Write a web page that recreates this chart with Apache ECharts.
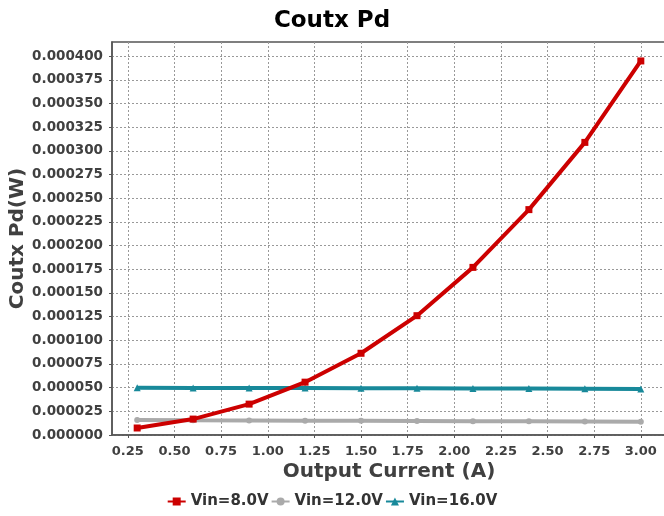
<!DOCTYPE html>
<html>
<head>
<meta charset="utf-8">
<script src="https://cdn.jsdelivr.net/npm/echarts@6/dist/echarts.min.js"></script>
<style>
  html, body { margin: 0; padding: 0; background: #fff; }
  #main { width: 664px; height: 516px; }
</style>
</head>
<body>
<div id="main"></div>
<script>
// output current (A)
var current = [0.3, 0.6, 0.9, 1.2, 1.5, 1.8, 2.1, 2.4, 2.7, 3.0]
// Coutx Pd (W)
var pd8 = [0.0000074, 0.0000168, 0.0000326, 0.0000558, 0.0000863, 0.000126, 0.000177, 0.000238, 0.000309, 0.000395]
var pd12 = [0.0000158, 0.0000155, 0.0000153, 0.0000151, 0.0000150, 0.0000148, 0.0000146, 0.0000144, 0.0000142, 0.0000140]
var pd16 = [0.0000498, 0.0000497, 0.0000496, 0.0000495, 0.0000494, 0.0000493, 0.0000492, 0.0000490, 0.0000488, 0.0000486]
var xTicks = [0.25, 0.5, 0.75, 1.0, 1.25, 1.5, 1.75, 2.0, 2.25, 2.5, 2.75, 3.0]
var yTicks = [0, 0.000025, 0.00005, 0.000075, 0.0001, 0.000125, 0.00015, 0.000175, 0.0002,
  0.000225, 0.00025, 0.000275, 0.0003, 0.000325, 0.00035, 0.000375, 0.0004]

function pairs(ys) {
  var out = []
  for (var i = 0; i < current.length; i++) out.push([current[i], ys[i]])
  return out
}

var font = 'DejaVu Sans'
var myChart = echarts.init(document.getElementById('main'))
var option = {
  animation: false,
  title: {
    text: 'Coutx Pd',
    left: 'center',
    top: 5,
    textStyle: { fontFamily: font, fontSize: 23, fontWeight: 'bold', color: '#000' }
  },
  grid: {
    left: 112,
    right: -2,
    top: 42,
    bottom: 81,
    outerBoundsMode: 'none',
    containLabel: false,
    show: true,
    borderColor: '#555',
    borderWidth: 1.5
  },
  legend: {
    bottom: 2,
    left: 'center',
    itemWidth: 18,
    itemHeight: 10,
    itemGap: 2,
    textStyle: { fontFamily: font, fontSize: 15, fontWeight: 'bold', color: '#333' },
    data: ['Vin=8.0V', 'Vin=12.0V', 'Vin=16.0V']
  },
  xAxis: {
    type: 'value',
    min: 0.165,
    max: 3.135,
    name: 'Output Current (A)',
    nameLocation: 'middle',
    nameGap: 27,
    nameMoveOverlap: false,
    nameTextStyle: { fontFamily: font, fontSize: 20, fontWeight: 'bold', color: '#404040' },
    axisLine: { show: true, lineStyle: { color: '#555', width: 1.5 } },
    axisTick: { show: true, length: 3, customValues: xTicks, lineStyle: { color: '#555' } },
    axisLabel: {
      customValues: xTicks,
      fontFamily: font, fontSize: 13, fontWeight: 'bold', color: '#404040', margin: 10,
      formatter: function (v) { return v.toFixed(2) }
    },
    splitLine: { show: true, lineStyle: { color: '#999', type: [2, 2], width: 1 } }
  },
  yAxis: {
    type: 'value',
    min: 0,
    max: 0.000415,
    name: 'Coutx Pd(W)',
    nameLocation: 'middle',
    nameGap: 84,
    nameMoveOverlap: false,
    nameTextStyle: { fontFamily: font, fontSize: 20, fontWeight: 'bold', color: '#404040' },
    axisLine: { show: true, lineStyle: { color: '#555', width: 1.5 } },
    axisTick: { show: true, length: 3, customValues: yTicks, lineStyle: { color: '#555' } },
    axisLabel: {
      customValues: yTicks,
      fontFamily: font, fontSize: 13.5, fontWeight: 'bold', color: '#404040', margin: 9,
      formatter: function (v) { return v.toFixed(6) }
    },
    splitLine: { show: true, lineStyle: { color: '#999', type: [2, 2], width: 1 } }
  },
  series: [
    {
      name: 'Vin=8.0V',
      type: 'line',
      data: pairs(pd8),
      color: '#cc0000',
      symbol: 'rect',
      symbolSize: 7,
      lineStyle: { width: 4 },
      z: 4
    },
    {
      name: 'Vin=12.0V',
      type: 'line',
      data: pairs(pd12),
      color: '#aaaaaa',
      symbol: 'circle',
      symbolSize: 6,
      lineStyle: { width: 4 },
      z: 2
    },
    {
      name: 'Vin=16.0V',
      type: 'line',
      data: pairs(pd16),
      color: '#18899a',
      symbol: 'triangle',
      symbolSize: 7,
      lineStyle: { width: 4 },
      z: 3
    }
  ]
}
myChart.setOption(option)
</script>
</body>
</html>
